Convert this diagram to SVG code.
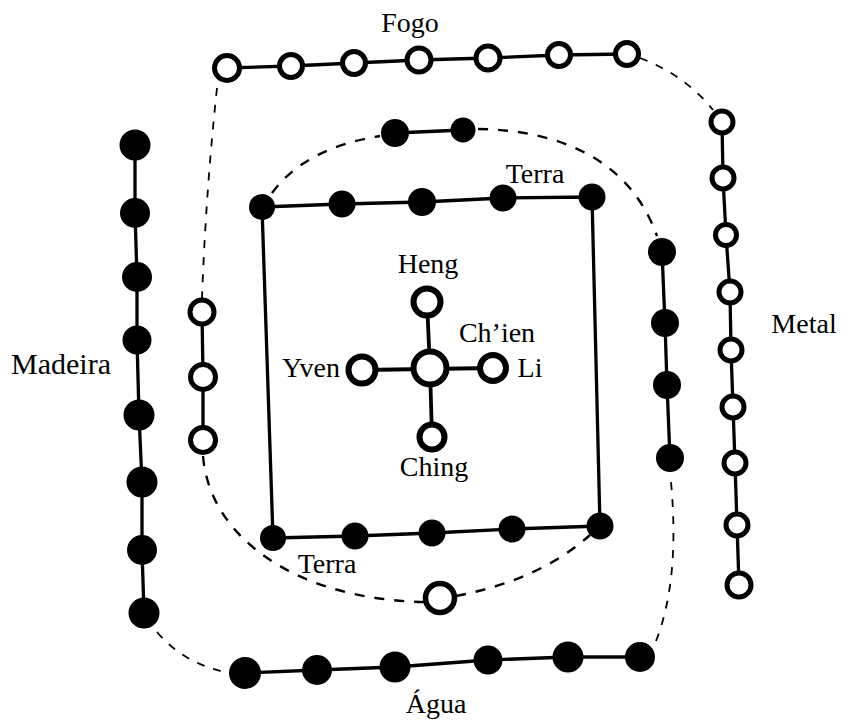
<svg xmlns="http://www.w3.org/2000/svg" width="842" height="724" viewBox="0 0 842 724">
<style>
.bg{fill:#fff}
.ln{fill:none;stroke:#000;stroke-width:3.3;stroke-linecap:round;stroke-linejoin:round}
.dash{fill:none;stroke:#000;stroke-width:1.8;stroke-dasharray:8 9}
.dash2{fill:none;stroke:#000;stroke-width:2.4;stroke-dasharray:10 10}
.f{fill:#000}
.o{fill:#fff;stroke:#000;stroke-width:5}
.oc{fill:#fff;stroke:#000;stroke-width:6}
text{font-family:"Liberation Serif","Times New Roman",serif;font-size:28px;fill:#000;text-anchor:middle}
</style>
<rect class="bg" x="0" y="0" width="842" height="724"/>
<g id="connectors">
  <polyline class="ln" points="227,68 291,66 354,63 419,60 488,58 559,55 627,54"/>
  <polyline class="ln" points="135,145 135,213 137,277 137,340 139,415 142,482 142,550 144,613"/>
  <polyline class="ln" points="722,122 723,178 726,235 730,292 731,350 733,407 735,463 737,525 739,585"/>
  <polyline class="ln" points="202,312 203,377 203,440"/>
  <polyline class="ln" points="662,252 665,323 667,385 670,458"/>
  <polyline class="ln" points="395,133 463,130"/>
  <polyline class="ln" points="245,673 317,670 395,667 488,660 568,657 640,657"/>
  <polygon class="ln" points="262,207 342,204 422,202 503,198 592,197 600,526 512,529 432,533 355,536 273,538"/>
  <line class="ln" x1="427" y1="302" x2="430" y2="368" style="stroke-width:3.8"/>
  <line class="ln" x1="430" y1="368" x2="432" y2="437" style="stroke-width:3.8"/>
  <line class="ln" x1="362" y1="370" x2="493" y2="368" style="stroke-width:3.8"/>
  <path class="dash" d="M217,88 Q206,190 202,298"/>
  <path class="dash" d="M640,58 Q685,75 713,110"/>
  <path class="dash" d="M157,632 Q185,665 230,673"/>
  <path class="dash" d="M656,641 Q680,580 671,482"/>
  <path class="dash2" d="M272,193 Q305,148 380,136"/>
  <path class="dash2" d="M478,129 C560,130 630,160 657,236"/>
  <path class="dash2" d="M203,456 C210,540 300,600 425,602"/>
  <path class="dash2" d="M456,596 Q540,580 590,535"/>
</g>
<g id="fogo-1"><circle class="o" cx="227" cy="68" r="12.5"/></g>
<g id="fogo-2"><circle class="o" cx="291" cy="66" r="11.5"/></g>
<g id="fogo-3"><circle class="o" cx="354" cy="63" r="11.5"/></g>
<g id="fogo-4"><circle class="o" cx="419" cy="60" r="12"/></g>
<g id="fogo-5"><circle class="o" cx="488" cy="58" r="12"/></g>
<g id="fogo-6"><circle class="o" cx="559" cy="55" r="11.5"/></g>
<g id="fogo-7"><circle class="o" cx="627" cy="54" r="11.5"/></g>
<g id="madeira-1"><circle class="f" cx="135" cy="145" r="15.5"/></g>
<g id="madeira-2"><circle class="f" cx="135" cy="213" r="15"/></g>
<g id="madeira-3"><circle class="f" cx="137" cy="277" r="15"/></g>
<g id="madeira-4"><circle class="f" cx="137" cy="340" r="14.5"/></g>
<g id="madeira-5"><circle class="f" cx="139" cy="415" r="15.5"/></g>
<g id="madeira-6"><circle class="f" cx="142" cy="482" r="15.5"/></g>
<g id="madeira-7"><circle class="f" cx="142" cy="550" r="15"/></g>
<g id="madeira-8"><circle class="f" cx="144" cy="613" r="15.5"/></g>
<g id="metal-1"><circle class="o" cx="722" cy="122" r="11"/></g>
<g id="metal-2"><circle class="o" cx="723" cy="178" r="11"/></g>
<g id="metal-3"><circle class="o" cx="726" cy="235" r="10.5"/></g>
<g id="metal-4"><circle class="o" cx="730" cy="292" r="11"/></g>
<g id="metal-5"><circle class="o" cx="731" cy="350" r="11"/></g>
<g id="metal-6"><circle class="o" cx="733" cy="407" r="11"/></g>
<g id="metal-7"><circle class="o" cx="735" cy="463" r="11"/></g>
<g id="metal-8"><circle class="o" cx="737" cy="525" r="11"/></g>
<g id="metal-9"><circle class="o" cx="739" cy="585" r="12"/></g>
<g id="inner-left-1"><circle class="o" cx="202" cy="312" r="12"/></g>
<g id="inner-left-2"><circle class="o" cx="203" cy="377" r="12.5"/></g>
<g id="inner-left-3"><circle class="o" cx="203" cy="440" r="12.5"/></g>
<g id="inner-right-1"><circle class="f" cx="662" cy="252" r="14"/></g>
<g id="inner-right-2"><circle class="f" cx="665" cy="323" r="14"/></g>
<g id="inner-right-3"><circle class="f" cx="667" cy="385" r="14"/></g>
<g id="inner-right-4"><circle class="f" cx="670" cy="458" r="14"/></g>
<g id="top-pair-1"><circle class="f" cx="395" cy="133" r="14"/></g>
<g id="top-pair-2"><circle class="f" cx="463" cy="130" r="12.5"/></g>
<g id="bottom-open"><circle class="o" cx="440" cy="598" r="14.5" style="stroke-width:5.5"/></g>
<g id="agua-1"><circle class="f" cx="245" cy="673" r="16"/></g>
<g id="agua-2"><circle class="f" cx="317" cy="670" r="15"/></g>
<g id="agua-3"><circle class="f" cx="395" cy="667" r="15.5"/></g>
<g id="agua-4"><circle class="f" cx="488" cy="660" r="14.5"/></g>
<g id="agua-5"><circle class="f" cx="568" cy="657" r="15.5"/></g>
<g id="agua-6"><circle class="f" cx="640" cy="657" r="15"/></g>
<g id="terra-top-1"><circle class="f" cx="262" cy="207" r="13"/></g>
<g id="terra-top-2"><circle class="f" cx="342" cy="204" r="13.5"/></g>
<g id="terra-top-3"><circle class="f" cx="422" cy="202" r="14"/></g>
<g id="terra-top-4"><circle class="f" cx="503" cy="198" r="13.5"/></g>
<g id="terra-top-5"><circle class="f" cx="592" cy="197" r="13.5"/></g>
<g id="terra-bot-1"><circle class="f" cx="273" cy="538" r="13"/></g>
<g id="terra-bot-2"><circle class="f" cx="355" cy="536" r="13.5"/></g>
<g id="terra-bot-3"><circle class="f" cx="432" cy="533" r="13.5"/></g>
<g id="terra-bot-4"><circle class="f" cx="512" cy="529" r="13.5"/></g>
<g id="terra-bot-5"><circle class="f" cx="600" cy="526" r="13.5"/></g>
<g id="center"><circle class="oc" cx="430" cy="368" r="16.5"/></g>
<g id="heng"><circle class="oc" cx="427" cy="302" r="13.5"/></g>
<g id="yven"><circle class="oc" cx="362" cy="370" r="13.5"/></g>
<g id="li"><circle class="oc" cx="493" cy="368" r="13"/></g>
<g id="ching"><circle class="oc" cx="432" cy="437" r="12.5"/></g>
<g id="labels">
  <text x="410" y="32">Fogo</text>
  <text x="61" y="374" style="font-size:30px">Madeira</text>
  <text x="804" y="333">Metal</text>
  <text x="436" y="713">Água</text>
  <text x="535" y="183">Terra</text>
  <text x="327" y="573">Terra</text>
  <text x="428" y="273">Heng</text>
  <text x="497" y="342">Ch’ien</text>
  <text x="311" y="377">Yven</text>
  <text x="530" y="377">Li</text>
  <text x="434" y="476">Ching</text>
</g>
</svg>
